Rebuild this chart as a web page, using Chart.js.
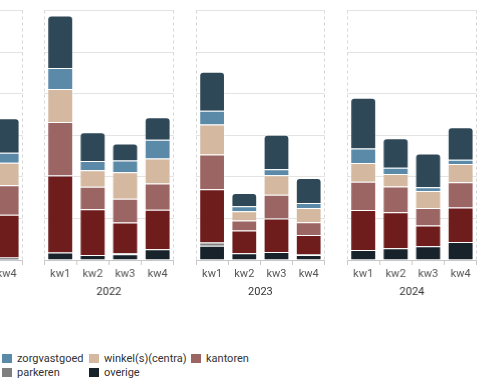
<!DOCTYPE html>
<html lang="nl">
<head>
  <meta charset="UTF-8"/>
  <title>Beleggingsvolume per kwartaal</title>
  <script src="https://cdn.jsdelivr.net/npm/chart.js"></script>
  <style>
    body { margin: 0; background: #fff; font-family: Roboto, sans-serif; }
    #wrap { position: relative; width: 495px; height: 383px; overflow: hidden; }
    .panel { position: absolute; top: 0; width: 136.8px; height: 303px; }
    .legend { position: absolute; left: 2px; top: 353px; display: grid; grid-template-columns: 87px 102px auto; row-gap: 3px; font-size: 11px; color: #333; line-height: 11px; }
    .legend .item { display: flex; align-items: center; white-space: nowrap; }
    .legend i { display: inline-block; width: 10px; height: 9px; margin-right: 5px; }
  </style>
</head>
<body>
<div id="wrap">
  <div class="panel" style="left:-110.9px"><canvas id="c2021"></canvas></div>
  <div class="panel" style="left:40.3px"><canvas id="c2022"></canvas></div>
  <div class="panel" style="left:191.6px"><canvas id="c2023"></canvas></div>
  <div class="panel" style="left:342.8px"><canvas id="c2024"></canvas></div>
  <div class="legend" id="legend"></div>
</div>

<script>
const years = ['2021', '2022', '2023', '2024'];
const quarters = ['kw1', 'kw2', 'kw3', 'kw4'];

// 4 values per year, 2021 kw1-kw3 fall outside the picture
const overige      = [null, null, null, 6,   18, 12, 14, 26,   34, 16, 19, 12,   24, 28, 33, 43];
const parkeren     = [null, null, null, null, null, null, 2, null, 8, null, null, 2, null, null, null, null];
const woningen     = [null, null, null, 103, 185, 110, 74, 95,  128, 55, 81, 46,   96, 87, 50, 83];
const kantoren     = [null, null, null, 71,  129, 54, 57, 63,   84, 24, 57, 31,    68, 62, 42, 61];
const winkels      = [null, null, null, 54,  79, 40, 64, 60,    72, 22, 47, 34,    45, 30, 41, 44];
const zorgvastgoed = [null, null, null, 24,  51, 22, 28, 45,    33, 12, 14, 12,    35, 15, 9, 10];
const bedrijfs     = [null, null, null, 83,  126, 69, 41, 54,   94, 32, 83, 60,    122, 71, 81, 78];

const series = [
  { label: 'overige', data: overige, color: '#17222b', legend: true },
  { label: 'parkeren', data: parkeren, color: '#7f7f7f', legend: true },
  { label: 'woningen', data: woningen, color: '#6e1c1c' },
  { label: 'kantoren', data: kantoren, color: '#9b6563', legend: true },
  { label: 'winkel(s)(centra)', data: winkels, color: '#d4b89f', legend: true },
  { label: 'zorgvastgoed', data: zorgvastgoed, color: '#5b8aa8', legend: true },
  { label: 'bedrijfsruimten', data: bedrijfs, color: '#2f4858', top: true }
];

const legendOrder = ['zorgvastgoed', 'winkel(s)(centra)', 'kantoren', 'parkeren', 'overige'];

// dashed left/right edge of every panel
const frame = {
  id: 'frame',
  beforeDatasetsDraw(chart) {
    const { ctx, chartArea: a } = chart;
    ctx.save();
    ctx.strokeStyle = '#d6d6d6';
    ctx.lineWidth = 1;
    ctx.setLineDash([3, 3]);
    ctx.beginPath();
    ctx.moveTo(Math.round(a.left) + 0.5, a.top);
    ctx.lineTo(Math.round(a.left) + 0.5, a.bottom);
    ctx.moveTo(Math.round(a.right) - 0.5, a.top);
    ctx.lineTo(Math.round(a.right) - 0.5, a.bottom);
    ctx.stroke();
    ctx.restore();
  }
};

years.forEach((year, yi) => {
  const datasets = series.map(s => ({
    label: s.label,
    data: s.data.slice(yi * 4, yi * 4 + 4),
    backgroundColor: s.color,
    borderColor: 'rgba(255,255,255,0.35)',
    borderWidth: 1,
    borderRadius: s.top ? { topLeft: 4, topRight: 4, bottomLeft: 0, bottomRight: 0 } : 0,
    barPercentage: 0.8,
    categoryPercentage: 1
  }));

  new Chart(document.getElementById('c' + year), {
    type: 'bar',
    data: { labels: quarters, datasets: datasets },
    options: {
      responsive: true,
      maintainAspectRatio: false,
      animation: false,
      layout: { padding: { left: 4, right: 4, top: 10.5, bottom: 0 } },
      plugins: { legend: { display: false }, tooltip: { enabled: false } },
      scales: {
        x: {
          stacked: true,
          offset: true,
          grid: { drawOnChartArea: false, drawTicks: true, tickLength: 5, color: '#c8c8c8', offset: true },
          border: { color: '#c8c8c8' },
          ticks: { color: '#555', font: { family: 'Roboto', size: 11 }, padding: 3, maxRotation: 0 },
          title: { display: true, text: year, color: '#333', font: { family: 'Roboto', size: 11 }, padding: { top: 4, bottom: 4 } },
          afterFit: s => { s.height = 43; }
        },
        y: {
          stacked: true,
          min: 0,
          max: 600,
          ticks: { display: false, stepSize: 100 },
          grid: { color: '#e3e3e3', drawTicks: false },
          border: { display: false }
        }
      }
    },
    plugins: [frame]
  });
});

const legendEl = document.getElementById('legend');
legendOrder.forEach(name => {
  const s = series.find(x => x.label === name);
  const item = document.createElement('span');
  item.className = 'item';
  item.innerHTML = '<i style="background:' + s.color + '"></i>' + s.label;
  legendEl.appendChild(item);
});
</script>
</body>
</html>
